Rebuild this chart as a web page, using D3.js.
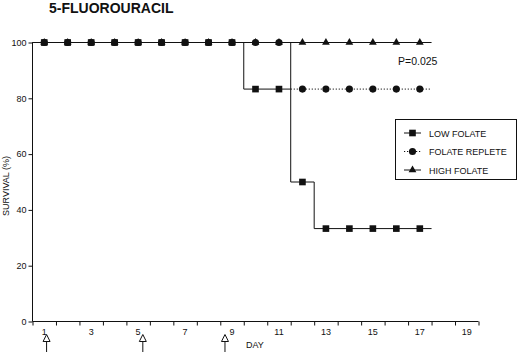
<!DOCTYPE html>
<html>
<head>
<meta charset="utf-8">
<script src="https://cdn.jsdelivr.net/npm/d3@7"></script>
<style>
  html, body { margin: 0; padding: 0; background: #fff; }
  svg { display: block; font-family: "Liberation Sans", Arial, Helvetica, sans-serif; }
</style>
</head>
<body>
<svg id="chart" width="520" height="352"></svg>
<script>
// Survival by day for each folate group (percent alive)
const days = d3.range(1, 18);
const lowFolate     = [100, 100, 100, 100, 100, 100, 100, 100, 100, 83.3, 83.3, 50, 33.3, 33.3, 33.3, 33.3, 33.3];
const folateReplete = [100, 100, 100, 100, 100, 100, 100, 100, 100, 100, 100, 83.3, 83.3, 83.3, 83.3, 83.3, 83.3];
const highFolate    = [100, 100, 100, 100, 100, 100, 100, 100, 100, 100, 100, 100, 100, 100, 100, 100, 100];
const seriesNames = ["LOW FOLATE", "FOLATE REPLETE", "HIGH FOLATE"];
const xTickLabels = [1, 3, 5, 7, 9, 11, 13, 15, 17, 19];
const yTickLabels = [0, 20, 40, 60, 80, 100];
const doseDays = [1.1, 5.2, 8.7];   // 5-FU dosing (arrows)
const pValue = "P=0.025";

const svg = d3.select("#chart");
const ink = "#111";

const x = d3.scaleLinear().domain([0.5, 19.5]).range([32.5, 478.5]);
const y = d3.scaleLinear().domain([0, 100]).range([321.5, 42.5]);

// Title
svg.append("text")
  .attr("x", 49).attr("y", 13)
  .attr("font-size", 14).attr("font-weight", "bold")
  .attr("fill", ink)
  .text("5-FLUOROURACIL");

// Y axis
const yAxis = svg.append("g")
  .attr("transform", `translate(${x(0.5)},0)`)
  .call(d3.axisLeft(y).tickValues(yTickLabels).tickSize(4).tickPadding(2));
yAxis.select(".domain").attr("d", `M0,${y(0)}V${y(100)}`);

// X axis: ticks on half days, labels centred under odd days
const xAxis = svg.append("g")
  .attr("transform", `translate(0,${y(0)})`)
  .call(d3.axisBottom(x).tickValues(d3.range(0.5, 20, 1)).tickSize(4).tickFormat(""));
xAxis.select(".domain").attr("d", `M${x(0.5)},0H${x(19.5)}`);
xAxis.selectAll(".tickLabel")
  .data(xTickLabels)
  .join("text")
  .attr("class", "tickLabel")
  .attr("x", d => x(d)).attr("y", 13)
  .attr("text-anchor", "middle")
  .attr("font-size", 9)
  .attr("fill", ink)
  .text(d => d);

[yAxis, xAxis].forEach(g => {
  g.selectAll("path, line").attr("stroke", ink).attr("stroke-width", 1);
  g.selectAll(".tick text").attr("font-size", 9).attr("fill", ink).attr("font-family", null);
});

// Axis titles
svg.append("text")
  .attr("transform", `translate(9,${(y(0) + y(100)) / 2 + 4}) rotate(-90)`)
  .attr("text-anchor", "middle")
  .attr("font-size", 9).attr("fill", ink)
  .text("SURVIVAL (%)");

svg.append("text")
  .attr("x", 246).attr("y", 348)
  .attr("font-size", 9).attr("fill", ink)
  .text("DAY");

// Dosing arrows
const arrows = svg.append("g");
doseDays.forEach(d => {
  const cx = x(d);
  arrows.append("line")
    .attr("x1", cx).attr("x2", cx).attr("y1", 341).attr("y2", 352)
    .attr("stroke", ink).attr("stroke-width", 1);
  arrows.append("path")
    .attr("d", `M${cx},334.5L${cx + 3.5},341.5L${cx - 3.5},341.5Z`)
    .attr("fill", "#fff").attr("stroke", ink).attr("stroke-width", 1);
});

// Step lines: horizontal runs carry the series' dash, drops are solid
function runs(vals) {
  const out = [];
  let start = days[0] - 0.5;
  for (let i = 0; i < vals.length; i++) {
    const last = i === vals.length - 1;
    if (last || vals[i + 1] !== vals[i]) {
      out.push({ x0: start, x1: days[i] + 0.5, v: vals[i] });
      start = days[i] + 0.5;
    }
  }
  return out;
}
function drops(vals) {
  const out = [];
  for (let i = 0; i < vals.length - 1; i++) {
    if (vals[i + 1] !== vals[i]) out.push({ xd: days[i] + 0.5, v0: vals[i], v1: vals[i + 1] });
  }
  return out;
}

const symbols = {
  square: d3.symbol().type(d3.symbolSquare).size(44),
  circle: d3.symbol().type(d3.symbolCircle).size(40),
  triangle: d3.symbol().type(d3.symbolTriangle).size(26)
};

const series = [
  { name: seriesNames[2], values: highFolate, dash: null, sym: symbols.triangle },
  { name: seriesNames[1], values: folateReplete, dash: "1.2,1.8", sym: symbols.circle },
  { name: seriesNames[0], values: lowFolate, dash: null, sym: symbols.square }
];

series.forEach(s => {
  const g = svg.append("g").attr("stroke", ink).attr("stroke-width", 1);
  g.selectAll(".run").data(runs(s.values)).join("line")
    .attr("class", "run")
    .attr("x1", r => x(r.x0)).attr("x2", r => x(r.x1))
    .attr("y1", r => y(r.v)).attr("y2", r => y(r.v))
    .attr("stroke-dasharray", s.dash);
  g.selectAll(".drop").data(drops(s.values)).join("line")
    .attr("class", "drop")
    .attr("x1", r => x(r.xd)).attr("x2", r => x(r.xd))
    .attr("y1", r => y(r.v0)).attr("y2", r => y(r.v1));
});
series.forEach(s => {
  svg.append("g").selectAll("path")
    .data(days.map((d, i) => [d, s.values[i]]))
    .join("path")
    .attr("transform", p => `translate(${x(p[0])},${y(p[1])})`)
    .attr("d", s.sym())
    .attr("fill", ink);
});

// P value
svg.append("text")
  .attr("x", 398).attr("y", 65)
  .attr("font-size", 10.5).attr("fill", ink)
  .text(pValue);

// Legend
const legend = svg.append("g");
legend.append("rect")
  .attr("x", 395.5).attr("y", 119.5).attr("width", 121).attr("height", 60)
  .attr("fill", "#fff").attr("stroke", ink).attr("stroke-width", 1);
const legendItems = [series[2], series[1], series[0]];
legendItems.forEach((s, i) => {
  const ly = 133 + i * 18.5;
  legend.append("line")
    .attr("x1", 404).attr("x2", 421).attr("y1", ly).attr("y2", ly)
    .attr("stroke", ink).attr("stroke-width", 1)
    .attr("stroke-dasharray", s.dash);
  legend.append("path")
    .attr("transform", `translate(412.5,${ly})`)
    .attr("d", s.sym())
    .attr("fill", ink);
  legend.append("text")
    .attr("x", 429).attr("y", ly + 3.5)
    .attr("font-size", 9).attr("fill", ink)
    .text(s.name);
});
</script>
</body>
</html>
